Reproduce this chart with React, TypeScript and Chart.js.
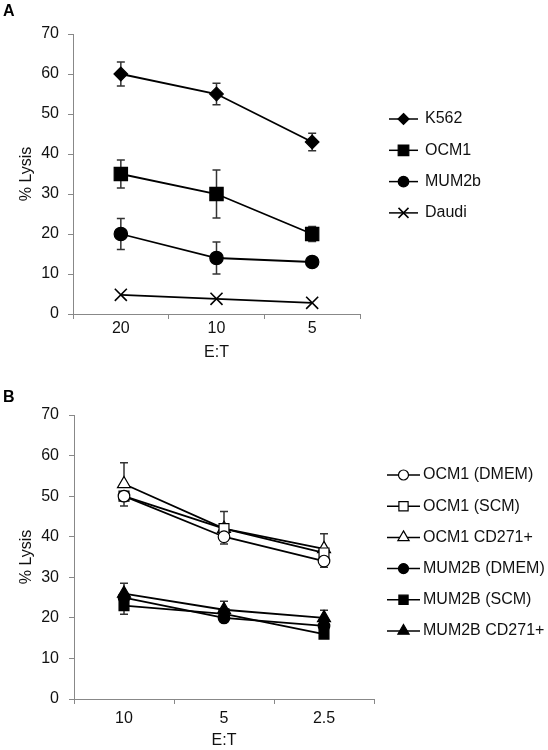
import React, { useEffect, useRef } from 'react';
import { Chart, registerables } from 'chart.js';

Chart.register(...registerables);

const FONT = "'Liberation Sans', Arial, Helvetica, sans-serif";

// ---------- Panel A data ----------
const catsA = ['20', '10', '5'];
const labelsA = ['K562', 'OCM1', 'MUM2b', 'Daudi'];
const k562 = [60, 55, 43];
const k562Err = [3, 2.7, 2.2];
const ocm1 = [35, 30, 20];
const ocm1Err = [3.5, 6, 1.9];
const mum2b = [20, 14, 13];
const mum2bErr = [3.9, 4, 0.5];
const daudi = [4.8, 3.8, 2.8];
const daudiErr = [0, 0, 0];

// ---------- Panel B data ----------
const catsB = ['10', '5', '2.5'];
const labelsB = ['OCM1 (DMEM)', 'OCM1 (SCM)', 'OCM1 CD271+', 'MUM2B (DMEM)', 'MUM2B (SCM)', 'MUM2B CD271+'];
const ocm1Dmem = [50, 40, 34];
const ocm1DmemErrDown = [2.4, 1.8, 1.5];
const ocm1Scm = [50, 42, 36];
const ocm1Cd271 = [53, 42, 37];
const ocm1Cd271ErrUp = [5.2, 4.2, 3.7];
const mum2bDmem = [25, 20, 18];
const mum2bScm = [23, 21, 16];
const mum2bScmErrDown = [2.1, 0, 0];
const mum2bCd271 = [26, 22, 20];
const mum2bCd271ErrUp = [2.5, 2.1, 1.9];

const yTicks = { min: 0, max: 70, step: 10 };

function drawMarker(ctx: CanvasRenderingContext2D, style: string, x: number, y: number, r: number, fill: string) {
  ctx.save();
  ctx.fillStyle = fill;
  ctx.strokeStyle = '#000';
  ctx.lineWidth = 1.2;
  ctx.beginPath();
  if (style === 'circle') {
    ctx.arc(x, y, r, 0, Math.PI * 2);
  } else if (style === 'rect') {
    ctx.rect(x - r, y - r, 2 * r, 2 * r);
  } else if (style === 'rectRot') {
    ctx.moveTo(x, y - r);
    ctx.lineTo(x + r, y);
    ctx.lineTo(x, y + r);
    ctx.lineTo(x - r, y);
    ctx.closePath();
  } else if (style === 'triangle') {
    const h = r * Math.sqrt(3) / 2;
    ctx.moveTo(x, y - r);
    ctx.lineTo(x + h, y + r / 2);
    ctx.lineTo(x - h, y + r / 2);
    ctx.closePath();
  } else if (style === 'crossRot') {
    ctx.lineWidth = 1.5;
    ctx.moveTo(x - r, y - r);
    ctx.lineTo(x + r, y + r);
    ctx.moveTo(x + r, y - r);
    ctx.lineTo(x - r, y + r);
    ctx.stroke();
    ctx.restore();
    return;
  }
  ctx.fill();
  ctx.stroke();
  ctx.restore();
}

const errorBarPlugin = {
  id: 'errorBars',
  beforeDatasetsDraw(chart: any) {
    const ctx = chart.ctx;
    const yScale = chart.scales.y;
    chart.data.datasets.forEach((ds: any, i: number) => {
      const meta = chart.getDatasetMeta(i);
      meta.data.forEach((pt: any, j: number) => {
        const v = ds.data[j];
        const up = ds.errUp ? ds.errUp[j] : 0;
        const dn = ds.errDown ? ds.errDown[j] : 0;
        const x = pt.x;
        const y0 = yScale.getPixelForValue(v);
        ctx.save();
        ctx.strokeStyle = '#333';
        ctx.lineWidth = 1.5;
        ctx.beginPath();
        if (up > 0) {
          const y1 = yScale.getPixelForValue(v + up);
          ctx.moveTo(x, y0);
          ctx.lineTo(x, y1);
          ctx.moveTo(x - 4, y1);
          ctx.lineTo(x + 4, y1);
        }
        if (dn > 0) {
          const y2 = yScale.getPixelForValue(v - dn);
          ctx.moveTo(x, y0);
          ctx.lineTo(x, y2);
          ctx.moveTo(x - 4, y2);
          ctx.lineTo(x + 4, y2);
        }
        ctx.stroke();
        ctx.restore();
      });
    });
  },
};

function makeLegendPlugin(y0: number, dy: number, x1: number, x2: number, tx: number) {
  return {
    id: 'customLegend',
    afterDraw(chart: any) {
      const ctx = chart.ctx;
      chart.data.datasets.forEach((ds: any, i: number) => {
        const y = y0 + i * dy;
        ctx.save();
        ctx.strokeStyle = '#000';
        ctx.lineWidth = 1.5;
        ctx.beginPath();
        ctx.moveTo(x1, y);
        ctx.lineTo(x2, y);
        ctx.stroke();
        ctx.restore();
        drawMarker(ctx, ds.pointStyle, (x1 + x2) / 2, y, ds.legendR, ds.pointBackgroundColor);
        ctx.save();
        ctx.fillStyle = '#111';
        ctx.font = `16px ${FONT}`;
        ctx.textBaseline = 'middle';
        ctx.textAlign = 'left';
        ctx.fillText(ds.label, tx, y);
        ctx.restore();
      });
    },
  };
}

function lineDs(label: string, data: number[], style: string, r: number, legendR: number, fill: string, errUp?: number[], errDown?: number[]) {
  return {
    label,
    data,
    errUp,
    errDown,
    legendR,
    borderColor: '#000',
    borderWidth: 1.8,
    fill: false,
    tension: 0,
    pointStyle: style,
    pointRadius: r,
    pointHoverRadius: r,
    pointBackgroundColor: fill,
    pointBorderColor: '#000',
    pointBorderWidth: style === 'crossRot' ? 1.6 : 1.2,
  };
}

type Geo = {
  height: number;
  left: number;
  right: number;
  top: number;
  bottom: number;
  xTickPad: number;
  xTitlePad: number;
  yTickPad: number;
  yTitlePad: number;
};

function buildConfig(cats: string[], datasets: any[], g: Geo, legend: any): any {
  const tickFont = { family: FONT, size: 16 };
  return {
    type: 'line',
    data: { labels: cats, datasets },
    plugins: [errorBarPlugin, legend],
    options: {
      responsive: false,
      animation: false,
      devicePixelRatio: 1,
      events: [],
      layout: { padding: { left: 0, top: g.top, right: 548 - g.right, bottom: 0 } },
      plugins: { legend: { display: false }, tooltip: { enabled: false }, title: { display: false } },
      scales: {
        x: {
          type: 'category',
          offset: true,
          grid: { offset: true, drawOnChartArea: false, drawTicks: true, tickLength: 5, color: '#888', lineWidth: 1 },
          border: { display: true, color: '#888', width: 1 },
          ticks: { color: '#111', font: tickFont, padding: g.xTickPad, maxRotation: 0, autoSkip: false },
          title: { display: true, text: 'E:T', color: '#111', font: tickFont, padding: { top: 0, bottom: g.xTitlePad } },
          afterFit: (s: any) => {
            s.height = g.height - g.bottom;
          },
        },
        y: {
          type: 'linear',
          min: yTicks.min,
          max: yTicks.max,
          grid: { drawOnChartArea: false, drawTicks: true, tickLength: 5, color: '#888', lineWidth: 1 },
          border: { display: true, color: '#888', width: 1 },
          ticks: { stepSize: yTicks.step, color: '#111', font: tickFont, padding: g.yTickPad },
          title: { display: true, text: '% Lysis', color: '#111', font: tickFont, padding: { top: g.yTitlePad, bottom: 0 } },
          afterFit: (s: any) => {
            s.width = g.left;
          },
        },
      },
    },
  };
}

function configA() {
  const ds = [
    lineDs(labelsA[0], k562, 'rectRot', 6.8, 5.5, '#000', k562Err, k562Err),
    lineDs(labelsA[1], ocm1, 'rect', 9.4, 5.3, '#000', ocm1Err, ocm1Err),
    lineDs(labelsA[2], mum2b, 'circle', 6.7, 5.3, '#000', mum2bErr, mum2bErr),
    lineDs(labelsA[3], daudi, 'crossRot', 8.5, 5, '#000', daudiErr, daudiErr),
  ];
  return buildConfig(
    catsA,
    ds,
    { height: 370, left: 73, right: 360, top: 34, bottom: 314, xTickPad: 0, xTitlePad: 8, yTickPad: 9, yTitlePad: 17 },
    makeLegendPlugin(119, 31.3, 389, 418, 425)
  );
}

function configB() {
  const ds = [
    lineDs(labelsB[0], ocm1Dmem, 'circle', 5.8, 5, '#fff', undefined, ocm1DmemErrDown),
    lineDs(labelsB[1], ocm1Scm, 'rect', 7, 4.6, '#fff'),
    lineDs(labelsB[2], ocm1Cd271, 'triangle', 7.5, 6.5, '#fff', ocm1Cd271ErrUp),
    lineDs(labelsB[3], mum2bDmem, 'circle', 5.8, 5, '#000'),
    lineDs(labelsB[4], mum2bScm, 'rect', 7, 4.6, '#000', undefined, mum2bScmErrDown),
    lineDs(labelsB[5], mum2bCd271, 'triangle', 7.5, 6.5, '#000', mum2bCd271ErrUp),
  ];
  return buildConfig(
    catsB,
    ds,
    { height: 380, left: 74, right: 374, top: 45, bottom: 329, xTickPad: 5, xTitlePad: 0, yTickPad: 10, yTitlePad: 17 },
    makeLegendPlugin(105, 31.2, 387, 420, 423)
  );
}

function ChartCanvas({ top, height, make }: { top: number; height: number; make: () => any }) {
  const ref = useRef<HTMLCanvasElement | null>(null);
  useEffect(() => {
    if (!ref.current) return;
    const chart = new Chart(ref.current, make());
    return () => chart.destroy();
  }, []);
  return (
    <canvas
      ref={ref}
      width={548}
      height={height}
      style={{ position: 'absolute', left: 0, top, width: 548, height, display: 'block' }}
    />
  );
}

export default function App() {
  const panelLabel: React.CSSProperties = {
    position: 'absolute',
    left: 3,
    fontFamily: FONT,
    fontWeight: 'bold',
    fontSize: 16,
    lineHeight: '18px',
    color: '#000',
  };
  return (
    <div style={{ position: 'absolute', left: 0, top: 0, width: 548, height: 750, background: '#fff', overflow: 'hidden' }}>
      <ChartCanvas top={0} height={370} make={configA} />
      <ChartCanvas top={370} height={380} make={configB} />
      <div style={{ ...panelLabel, top: 2 }}>A</div>
      <div style={{ ...panelLabel, top: 388 }}>B</div>
    </div>
  );
}
